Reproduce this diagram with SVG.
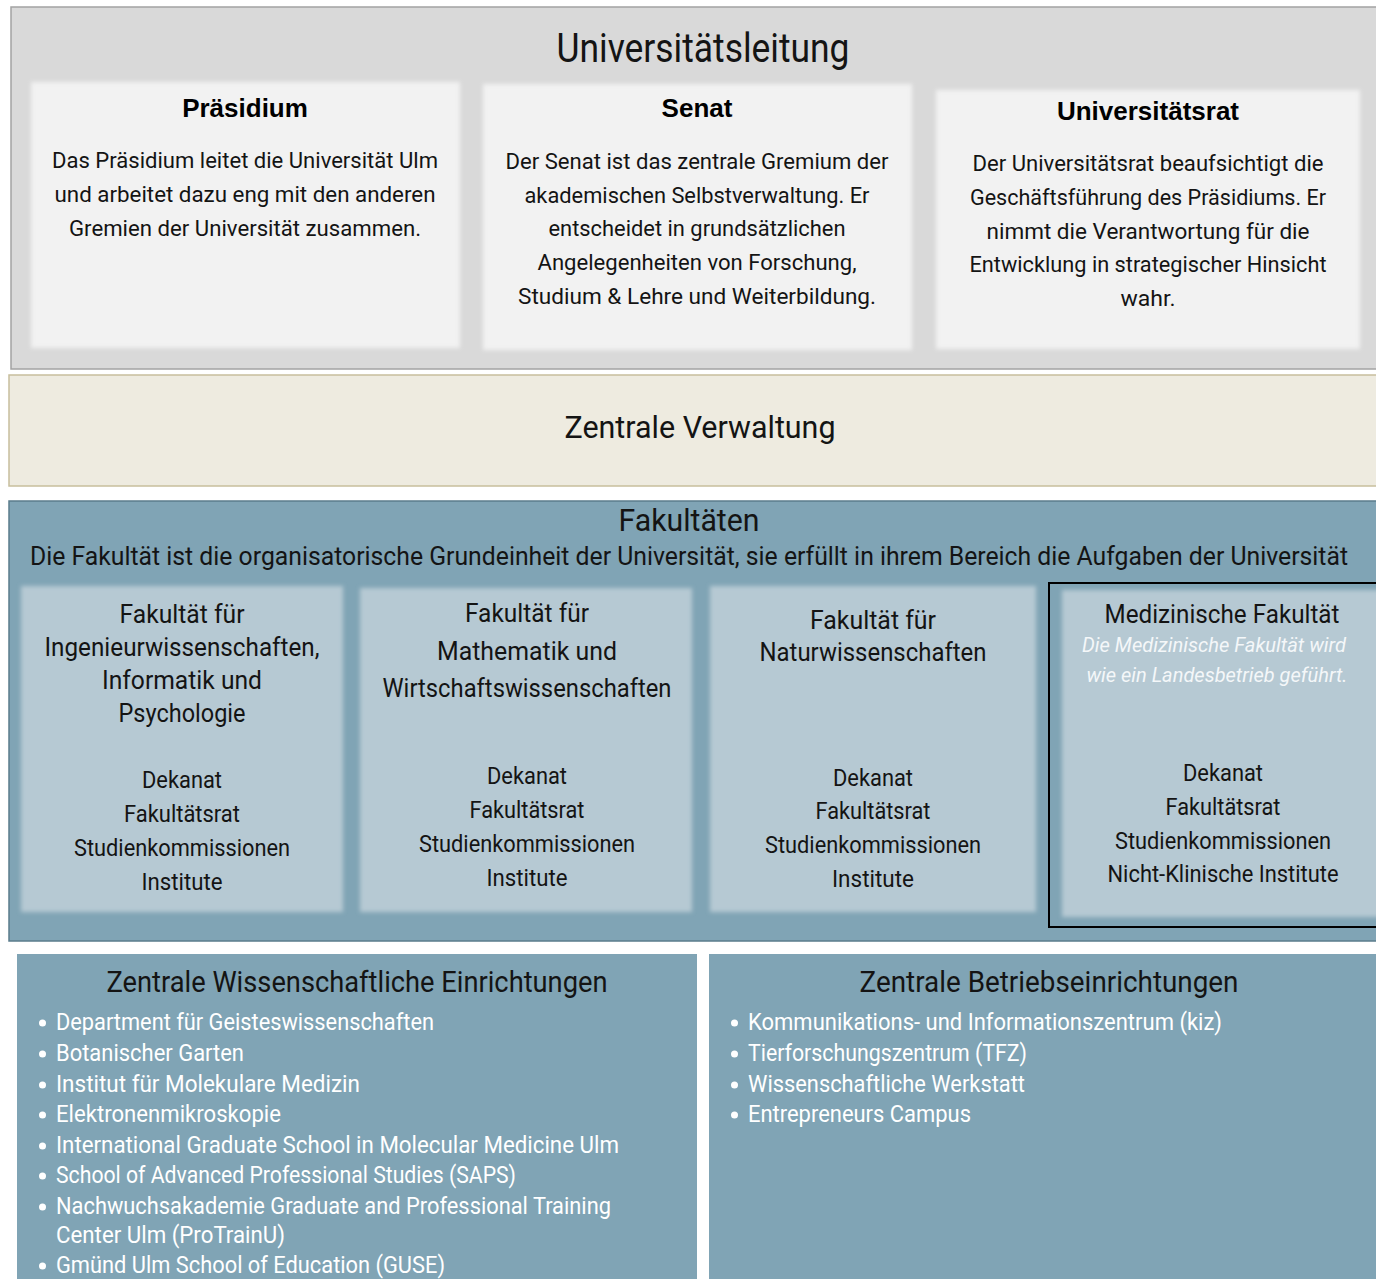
<svg xmlns="http://www.w3.org/2000/svg" width="1376" height="1279" viewBox="0 0 1376 1279">
<defs>
<filter id="soft" x="-5%" y="-5%" width="110%" height="110%"><feGaussianBlur stdDeviation="2"/></filter>
<style>
.t{font-family:Roboto,"Liberation Sans",sans-serif;fill:#141414;text-anchor:middle}
.h{font-family:"Liberation Sans",Arial,sans-serif;font-weight:bold;font-size:26px;fill:#000;text-anchor:middle}
.b{font-size:22px}
.f{font-size:25px}
.l{font-size:23px}
.i{font-family:Roboto,"Liberation Sans",sans-serif;font-style:italic;font-size:21px;fill:#f4f7f9;text-anchor:middle}
.w{font-family:Roboto,"Liberation Sans",sans-serif;font-size:23px;fill:#ffffff}
.big{font-size:40px}
.sec{font-size:32px}
.st{font-size:29px}
.card{fill:#f2f2f2;filter:url(#soft)}
.fac{fill:#b6c9d3;filter:url(#soft)}
.blue{fill:#80a4b5}
.dot{fill:#ffffff}
</style>
</defs>

<g id="universitaetsleitung">
<rect x="11" y="7" width="1370" height="362" fill="#d9d9d9" stroke="#a3a3a3" stroke-width="1.5"/>
<text class="t big" x="703" y="62" textLength="293" lengthAdjust="spacingAndGlyphs">Universitätsleitung</text>
</g>

<g id="praesidium">
<rect class="card" x="31" y="82" width="429" height="266"/>
<text class="h" x="245" y="117">Präsidium</text>
<text class="t b" x="245" y="168" textLength="386" lengthAdjust="spacingAndGlyphs">Das Präsidium leitet die Universität Ulm</text>
<text class="t b" x="245" y="202" textLength="381" lengthAdjust="spacingAndGlyphs">und arbeitet dazu eng mit den anderen</text>
<text class="t b" x="245" y="236" textLength="352" lengthAdjust="spacingAndGlyphs">Gremien der Universität zusammen.</text>
</g>

<g id="senat">
<rect class="card" x="483" y="84" width="429" height="266"/>
<text class="h" x="697" y="117">Senat</text>
<text class="t b" x="697" y="169" textLength="383" lengthAdjust="spacingAndGlyphs">Der Senat ist das zentrale Gremium der</text>
<text class="t b" x="697" y="203" textLength="345" lengthAdjust="spacingAndGlyphs">akademischen Selbstverwaltung. Er</text>
<text class="t b" x="697" y="236" textLength="297" lengthAdjust="spacingAndGlyphs">entscheidet in grundsätzlichen</text>
<text class="t b" x="697" y="270" textLength="319" lengthAdjust="spacingAndGlyphs">Angelegenheiten von Forschung,</text>
<text class="t b" x="697" y="304" textLength="358" lengthAdjust="spacingAndGlyphs">Studium &amp; Lehre und Weiterbildung.</text>
</g>

<g id="universitaetsrat">
<rect class="card" x="936" y="90" width="424" height="259"/>
<text class="h" x="1148" y="120">Universitätsrat</text>
<text class="t b" x="1148" y="171" textLength="351" lengthAdjust="spacingAndGlyphs">Der Universitätsrat beaufsichtigt die</text>
<text class="t b" x="1148" y="205" textLength="356" lengthAdjust="spacingAndGlyphs">Geschäftsführung des Präsidiums. Er</text>
<text class="t b" x="1148" y="239" textLength="323" lengthAdjust="spacingAndGlyphs">nimmt die Verantwortung für die</text>
<text class="t b" x="1148" y="272" textLength="357" lengthAdjust="spacingAndGlyphs">Entwicklung in strategischer Hinsicht</text>
<text class="t b" x="1148" y="306" textLength="55" lengthAdjust="spacingAndGlyphs">wahr.</text>
</g>

<g id="zentrale-verwaltung">
<rect x="9" y="375" width="1372" height="111" fill="#eeebe0" stroke="#c7bf9d" stroke-width="1.5"/>
<text class="t sec" x="700" y="438" textLength="271" lengthAdjust="spacingAndGlyphs">Zentrale Verwaltung</text>
</g>

<g id="fakultaeten">
<rect x="9" y="501" width="1372" height="440" fill="#80a4b5" stroke="#5b7c8c" stroke-width="1.5"/>
<text class="t sec" x="689" y="531" textLength="141" lengthAdjust="spacingAndGlyphs">Fakultäten</text>
<text class="t f" x="689" y="565" textLength="1318" lengthAdjust="spacingAndGlyphs">Die Fakultät ist die organisatorische Grundeinheit der Universität, sie erfüllt in ihrem Bereich die Aufgaben der Universität</text>
</g>

<g id="fak-ingenieur">
<rect class="fac" x="21" y="586" width="322" height="326"/>
<text class="t f" x="182" y="623" textLength="125" lengthAdjust="spacingAndGlyphs">Fakultät für</text>
<text class="t f" x="182" y="656" textLength="275" lengthAdjust="spacingAndGlyphs">Ingenieurwissenschaften,</text>
<text class="t f" x="182" y="689" textLength="160" lengthAdjust="spacingAndGlyphs">Informatik und</text>
<text class="t f" x="182" y="722" textLength="127" lengthAdjust="spacingAndGlyphs">Psychologie</text>
<text class="t l" x="182" y="788" textLength="80" lengthAdjust="spacingAndGlyphs">Dekanat</text>
<text class="t l" x="182" y="822" textLength="116" lengthAdjust="spacingAndGlyphs">Fakultätsrat</text>
<text class="t l" x="182" y="856" textLength="216" lengthAdjust="spacingAndGlyphs">Studienkommissionen</text>
<text class="t l" x="182" y="890" textLength="81" lengthAdjust="spacingAndGlyphs">Institute</text>
</g>

<g id="fak-mathematik">
<rect class="fac" x="360" y="588" width="332" height="324"/>
<text class="t f" x="527" y="622" textLength="124" lengthAdjust="spacingAndGlyphs">Fakultät für</text>
<text class="t f" x="527" y="660" textLength="180" lengthAdjust="spacingAndGlyphs">Mathematik und</text>
<text class="t f" x="527" y="697" textLength="289" lengthAdjust="spacingAndGlyphs">Wirtschaftswissenschaften</text>
<text class="t l" x="527" y="784" textLength="80" lengthAdjust="spacingAndGlyphs">Dekanat</text>
<text class="t l" x="527" y="818" textLength="115" lengthAdjust="spacingAndGlyphs">Fakultätsrat</text>
<text class="t l" x="527" y="852" textLength="216" lengthAdjust="spacingAndGlyphs">Studienkommissionen</text>
<text class="t l" x="527" y="886" textLength="81" lengthAdjust="spacingAndGlyphs">Institute</text>
</g>

<g id="fak-natur">
<rect class="fac" x="710" y="586" width="326" height="326"/>
<text class="t f" x="873" y="629" textLength="126" lengthAdjust="spacingAndGlyphs">Fakultät für</text>
<text class="t f" x="873" y="661" textLength="227" lengthAdjust="spacingAndGlyphs">Naturwissenschaften</text>
<text class="t l" x="873" y="786" textLength="80" lengthAdjust="spacingAndGlyphs">Dekanat</text>
<text class="t l" x="873" y="819" textLength="115" lengthAdjust="spacingAndGlyphs">Fakultätsrat</text>
<text class="t l" x="873" y="853" textLength="216" lengthAdjust="spacingAndGlyphs">Studienkommissionen</text>
<text class="t l" x="873" y="887" textLength="82" lengthAdjust="spacingAndGlyphs">Institute</text>
</g>

<g id="fak-medizin">
<rect x="1049" y="583" width="334" height="344" fill="none" stroke="#000" stroke-width="2"/>
<rect class="fac" x="1062" y="590" width="320" height="327"/>
<text class="t f" x="1222" y="623" textLength="235" lengthAdjust="spacingAndGlyphs">Medizinische Fakultät</text>
<text class="i" x="1214" y="652" textLength="264" lengthAdjust="spacingAndGlyphs">Die Medizinische Fakultät wird</text>
<text class="i" x="1217" y="682" textLength="261" lengthAdjust="spacingAndGlyphs">wie ein Landesbetrieb geführt.</text>
<text class="t l" x="1223" y="781" textLength="80" lengthAdjust="spacingAndGlyphs">Dekanat</text>
<text class="t l" x="1223" y="815" textLength="115" lengthAdjust="spacingAndGlyphs">Fakultätsrat</text>
<text class="t l" x="1223" y="849" textLength="216" lengthAdjust="spacingAndGlyphs">Studienkommissionen</text>
<text class="t l" x="1223" y="882" textLength="231" lengthAdjust="spacingAndGlyphs">Nicht-Klinische Institute</text>
</g>

<g id="zentrale-wissenschaftliche-einrichtungen">
<rect class="blue" x="17" y="954" width="680" height="330"/>
<text class="t st" x="357" y="992" textLength="501" lengthAdjust="spacingAndGlyphs">Zentrale Wissenschaftliche Einrichtungen</text>
<circle class="dot" cx="42.5" cy="1023" r="3.5"/>
<text class="w" x="56" y="1030" textLength="378" lengthAdjust="spacingAndGlyphs">Department für Geisteswissenschaften</text>
<circle class="dot" cx="42.5" cy="1054" r="3.5"/>
<text class="w" x="56" y="1061" textLength="188" lengthAdjust="spacingAndGlyphs">Botanischer Garten</text>
<circle class="dot" cx="42.5" cy="1085" r="3.5"/>
<text class="w" x="56" y="1092" textLength="304" lengthAdjust="spacingAndGlyphs">Institut für Molekulare Medizin</text>
<circle class="dot" cx="42.5" cy="1115" r="3.5"/>
<text class="w" x="56" y="1122" textLength="225" lengthAdjust="spacingAndGlyphs">Elektronenmikroskopie</text>
<circle class="dot" cx="42.5" cy="1146" r="3.5"/>
<text class="w" x="56" y="1153" textLength="563" lengthAdjust="spacingAndGlyphs">International Graduate School in Molecular Medicine Ulm</text>
<circle class="dot" cx="42.5" cy="1176" r="3.5"/>
<text class="w" x="56" y="1183" textLength="460" lengthAdjust="spacingAndGlyphs">School of Advanced Professional Studies (SAPS)</text>
<circle class="dot" cx="42.5" cy="1207" r="3.5"/>
<text class="w" x="56" y="1214" textLength="555" lengthAdjust="spacingAndGlyphs">Nachwuchsakademie Graduate and Professional Training</text>
<text class="w" x="56" y="1243" textLength="229" lengthAdjust="spacingAndGlyphs">Center Ulm (ProTrainU)</text>
<circle class="dot" cx="42.5" cy="1266" r="3.5"/>
<text class="w" x="56" y="1273" textLength="389" lengthAdjust="spacingAndGlyphs">Gmünd Ulm School of Education (GUSE)</text>
</g>

<g id="zentrale-betriebseinrichtungen">
<rect class="blue" x="709" y="954" width="672" height="330"/>
<text class="t st" x="1049" y="992" textLength="379" lengthAdjust="spacingAndGlyphs">Zentrale Betriebseinrichtungen</text>
<circle class="dot" cx="734.5" cy="1023" r="3.5"/>
<text class="w" x="748" y="1030" textLength="474" lengthAdjust="spacingAndGlyphs">Kommunikations- und Informationszentrum (kiz)</text>
<circle class="dot" cx="734.5" cy="1054" r="3.5"/>
<text class="w" x="748" y="1061" textLength="279" lengthAdjust="spacingAndGlyphs">Tierforschungszentrum (TFZ)</text>
<circle class="dot" cx="734.5" cy="1085" r="3.5"/>
<text class="w" x="748" y="1092" textLength="277" lengthAdjust="spacingAndGlyphs">Wissenschaftliche Werkstatt</text>
<circle class="dot" cx="734.5" cy="1115" r="3.5"/>
<text class="w" x="748" y="1122" textLength="223" lengthAdjust="spacingAndGlyphs">Entrepreneurs Campus</text>
</g>

<g id="connectors"></g>
</svg>
